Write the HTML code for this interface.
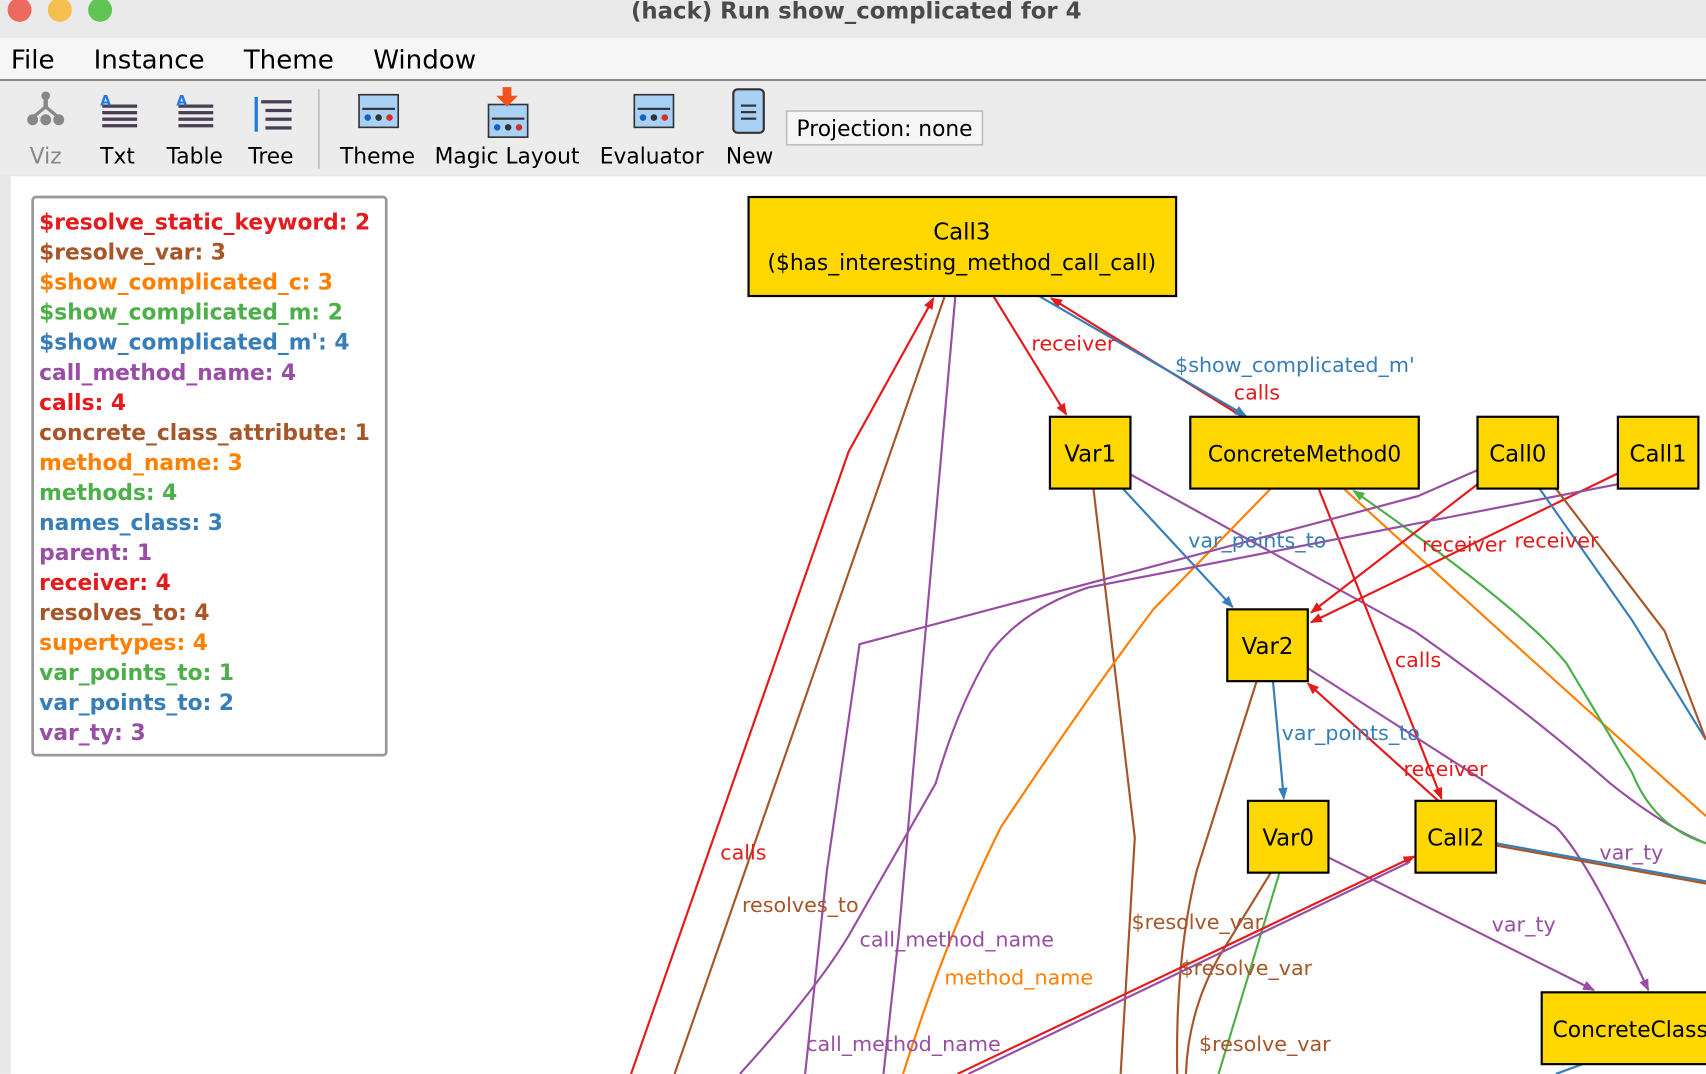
<!DOCTYPE html>
<html><head><meta charset="utf-8"><style>
html,body{margin:0;padding:0;width:1706px;height:1074px;overflow:hidden;background:#fff}
svg{display:block}
text{font-family:"DejaVu Sans","Liberation Sans",sans-serif}
</style></head><body>
<svg width="1706" height="1074" viewBox="0 0 1568 987" xmlns="http://www.w3.org/2000/svg">
<defs>
<marker id="ar" viewBox="0 0 10 10" refX="9" refY="5" markerWidth="12" markerHeight="11" orient="auto" markerUnits="userSpaceOnUse"><path d="M0,1 L10,5 L0,9 Z" fill="#e41a1c"/></marker>
<marker id="ab" viewBox="0 0 10 10" refX="9" refY="5" markerWidth="12" markerHeight="11" orient="auto" markerUnits="userSpaceOnUse"><path d="M0,1 L10,5 L0,9 Z" fill="#377eb8"/></marker>
<marker id="ap" viewBox="0 0 10 10" refX="9" refY="5" markerWidth="12" markerHeight="11" orient="auto" markerUnits="userSpaceOnUse"><path d="M0,1 L10,5 L0,9 Z" fill="#984ea3"/></marker>
<marker id="ag" viewBox="0 0 10 10" refX="9" refY="5" markerWidth="12" markerHeight="11" orient="auto" markerUnits="userSpaceOnUse"><path d="M0,1 L10,5 L0,9 Z" fill="#4daf4a"/></marker>
</defs>
<rect x="0" y="0" width="1568" height="35" fill="#e9e9e9"/>
<circle cx="18" cy="9" r="11" fill="#ec6a5e"/><circle cx="55" cy="9" r="11" fill="#f4bf4f"/><circle cx="92" cy="9" r="11" fill="#61c554"/>
<text x="787" y="17" text-anchor="middle" font-size="21" font-weight="bold" fill="#4a4a4a" font-family="Liberation Sans">(hack) Run show_complicated for 4</text>
<rect x="0" y="35" width="1568" height="38" fill="#f6f6f6"/>
<line x1="0" y1="73.5" x2="1568" y2="73.5" stroke="#8a8a8a" stroke-width="2"/>
<g font-size="24" fill="#000" font-family="Liberation Sans">
<text x="10" y="63">File</text><text x="86" y="63">Instance</text><text x="224" y="63">Theme</text><text x="343" y="63">Window</text></g>
<rect x="0" y="75" width="1568" height="85" fill="#ececec"/>
<line x1="293" y1="82" x2="293" y2="155" stroke="#bbb" stroke-width="1.5"/>
<g fill="#888"><circle cx="42" cy="88" r="4"/><rect x="40" y="88" width="4" height="12"/><circle cx="30" cy="110" r="5"/><circle cx="42" cy="110" r="5"/><circle cx="54" cy="110" r="5"/><path d="M42,98 L30,108 M42,98 L54,108" stroke="#888" stroke-width="3"/></g>
<g fill="#4a3f55"><rect x="94" y="96" width="32" height="3"/><rect x="94" y="102" width="32" height="3"/><rect x="94" y="108" width="32" height="3"/><rect x="94" y="114" width="32" height="3"/><rect x="164" y="96" width="32" height="3"/><rect x="164" y="102" width="32" height="3"/><rect x="164" y="108" width="32" height="3"/><rect x="164" y="114" width="32" height="3"/>
<rect x="240" y="92" width="28" height="3"/><rect x="244" y="100" width="24" height="3"/><rect x="244" y="108" width="24" height="3"/><rect x="244" y="116" width="24" height="3"/></g>
<text x="92" y="97" font-size="13" fill="#1e7be0" font-weight="bold">A</text><text x="162" y="97" font-size="13" fill="#1e7be0" font-weight="bold">A</text>
<rect x="234" y="89" width="3" height="32" fill="#1e7be0"/>
<g stroke="#333" stroke-width="1.5" fill="#a9d0f5"><rect x="330" y="87" width="36" height="30"/><rect x="449" y="96" width="36" height="30"/><rect x="583" y="87" width="36" height="30"/></g>
<g fill="#333"><rect x="333" y="99" width="30" height="2"/><rect x="452" y="108" width="30" height="2"/><rect x="586" y="99" width="30" height="2"/></g>
<g><circle cx="338" cy="108" r="3" fill="#1565c0"/><circle cx="348" cy="108" r="3" fill="#333"/><circle cx="358" cy="108" r="3" fill="#d32f2f"/><circle cx="457" cy="117" r="3" fill="#1565c0"/><circle cx="467" cy="117" r="3" fill="#333"/><circle cx="477" cy="117" r="3" fill="#d32f2f"/><circle cx="591" cy="108" r="3" fill="#1565c0"/><circle cx="601" cy="108" r="3" fill="#333"/><circle cx="611" cy="108" r="3" fill="#d32f2f"/></g>
<path d="M462,80 h8 v8 h6 l-10,10 l-10,-10 h6 z" fill="#f4511e"/>
<rect x="674" y="82" width="28" height="40" rx="4" fill="#a9d0f5" stroke="#333" stroke-width="2"/>
<g fill="#333"><rect x="681" y="96" width="14" height="2"/><rect x="681" y="102" width="14" height="2"/><rect x="681" y="108" width="14" height="2"/></g>
<g font-size="20" fill="#000" font-family="Liberation Sans" text-anchor="middle">
<text x="42" y="150" fill="#888">Viz</text><text x="108" y="150">Txt</text><text x="179" y="150">Table</text><text x="249" y="150">Tree</text><text x="347" y="150">Theme</text><text x="466" y="150">Magic Layout</text><text x="599" y="150">Evaluator</text><text x="689" y="150">New</text></g>
<rect x="723" y="102" width="180" height="31" fill="#f6f6f6" stroke="#bdbdbd" stroke-width="1.5"/>
<text x="813" y="125" font-size="20" text-anchor="middle" font-family="Liberation Sans">Projection: none</text>
<rect x="0" y="160" width="1568" height="827" fill="#e8e8e8"/>
<rect x="10" y="162" width="1558" height="825" fill="#fff"/>
<rect x="30" y="181" width="325" height="513" rx="3" fill="#fff" stroke="#999" stroke-width="2.5"/>
<g font-size="20" font-weight="bold">
<text x="36" y="211" fill="#e41a1c">$resolve_static_keyword: 2</text>
<text x="36" y="238.6" fill="#a65628">$resolve_var: 3</text>
<text x="36" y="266.2" fill="#ff7f00">$show_complicated_c: 3</text>
<text x="36" y="293.8" fill="#4daf4a">$show_complicated_m: 2</text>
<text x="36" y="321.4" fill="#377eb8">$show_complicated_m': 4</text>
<text x="36" y="349" fill="#984ea3">call_method_name: 4</text>
<text x="36" y="376.6" fill="#e41a1c">calls: 4</text>
<text x="36" y="404.2" fill="#a65628">concrete_class_attribute: 1</text>
<text x="36" y="431.8" fill="#ff7f00">method_name: 3</text>
<text x="36" y="459.4" fill="#4daf4a">methods: 4</text>
<text x="36" y="487" fill="#377eb8">names_class: 3</text>
<text x="36" y="514.6" fill="#984ea3">parent: 1</text>
<text x="36" y="542.2" fill="#e41a1c">receiver: 4</text>
<text x="36" y="569.8" fill="#a65628">resolves_to: 4</text>
<text x="36" y="597.4" fill="#ff7f00">supertypes: 4</text>
<text x="36" y="625" fill="#4daf4a">var_points_to: 1</text>
<text x="36" y="652.6" fill="#377eb8">var_points_to: 2</text>
<text x="36" y="680.2" fill="#984ea3">var_ty: 3</text>
</g>
<g fill="none" stroke-width="2">
<path d="M913,272 L980,381" stroke="#e41a1c" marker-end="url(#ar)"/>
<path d="M1142,383 L966,274" stroke="#e41a1c" marker-end="url(#ar)"/>
<path d="M955,272 L1145,382" stroke="#377eb8" marker-end="url(#ab)"/>
<path d="M1032,449 L1133,558" stroke="#377eb8" marker-end="url(#ab)"/>
<path d="M1039,436 L1300,580 Q1400,650 1480,720 Q1530,760 1568,775" stroke="#984ea3"/>
<path d="M1005,449 L1043,770 L1030,987" stroke="#a65628"/>
<path d="M1168,449 L1060,560 Q1000,640 920,760 Q870,860 830,987" stroke="#ff7f00"/>
<path d="M1212,449 L1325,734" stroke="#e41a1c" marker-end="url(#ar)"/>
<path d="M1235,449 Q1400,600 1568,750" stroke="#ff7f00"/>
<path d="M1568,775 Q1520,760 1500,710 Q1470,660 1440,610 Q1400,560 1244,451" stroke="#4daf4a" marker-end="url(#ag)"/>
<path d="M1358,445 L1205,563" stroke="#e41a1c" marker-end="url(#ar)"/>
<path d="M1487,435 L1205,572" stroke="#e41a1c" marker-end="url(#ar)"/>
<path d="M1358,432 L1303,456 L790,592 L760,800 L740,987" stroke="#984ea3"/>
<path d="M1487,445 L1000,540 Q940,560 910,600 Q880,650 860,720 Q820,790 780,860 Q750,910 680,987" stroke="#984ea3"/>
<path d="M878,273 L840,700 L826,860 L812,987" stroke="#984ea3"/>
<path d="M1415,449 L1500,570 L1568,680" stroke="#377eb8"/>
<path d="M1430,449 L1530,580 L1568,680" stroke="#a65628"/>
<path d="M1170,626 L1180,734" stroke="#377eb8" marker-end="url(#ab)"/>
<path d="M1322,736 L1202,628" stroke="#e41a1c" marker-end="url(#ar)"/>
<path d="M1202,614 L1430,760 Q1460,790 1515,910" stroke="#984ea3" marker-end="url(#ap)"/>
<path d="M1155,626 L1100,800 Q1080,880 1082,987" stroke="#a65628"/>
<path d="M1221,788 L1465,910" stroke="#984ea3" marker-end="url(#ap)"/>
<path d="M1168,802 L1120,880 Q1092,930 1090,987" stroke="#a65628"/>
<path d="M1176,802 L1120,987" stroke="#4daf4a"/>
<path d="M1375,775 L1568,810" stroke="#377eb8"/>
<path d="M1375,777 L1568,812" stroke="#a65628"/>
<path d="M880,987 L1300,787" stroke="#e41a1c" marker-end="url(#ar)"/>
<path d="M890,987 L1296,792" stroke="#984ea3"/>
<path d="M580,987 L780,415 L858,274" stroke="#e41a1c" marker-end="url(#ar)"/>
<path d="M868,273 L620,987" stroke="#a65628"/>
<path d="M1430,987 L1460,976" stroke="#377eb8"/>
</g>
<g font-size="19">
<text x="948" y="322" fill="#e41a1c">receiver</text>
<text x="1134" y="367" fill="#e41a1c">calls</text>
<text x="1080" y="342" fill="#377eb8">$show_complicated_m'</text>
<text x="1092" y="503" fill="#377eb8">var_points_to</text>
<text x="1307" y="507" fill="#e41a1c">receiver</text>
<text x="1392" y="503" fill="#e41a1c">receiver</text>
<text x="1282" y="613" fill="#e41a1c">calls</text>
<text x="1178" y="680" fill="#377eb8">var_points_to</text>
<text x="1290" y="713" fill="#e41a1c">receiver</text>
<text x="1470" y="790" fill="#984ea3">var_ty</text>
<text x="1371" y="856" fill="#984ea3">var_ty</text>
<text x="662" y="790" fill="#e41a1c">calls</text>
<text x="682" y="838" fill="#a65628">resolves_to</text>
<text x="790" y="870" fill="#984ea3">call_method_name</text>
<text x="868" y="905" fill="#ff7f00">method_name</text>
<text x="741" y="966" fill="#984ea3">call_method_name</text>
<text x="1040" y="854" fill="#a65628">$resolve_var</text>
<text x="1085" y="896" fill="#a65628">$resolve_var</text>
<text x="1102" y="966" fill="#a65628">$resolve_var</text>
</g>
<g fill="#ffd700" stroke="#000" stroke-width="2">
<rect x="688" y="181" width="393" height="91"/>
<rect x="965" y="383" width="74" height="66"/>
<rect x="1094" y="383" width="210" height="66"/>
<rect x="1358" y="383" width="74" height="66"/>
<rect x="1487" y="383" width="74" height="66"/>
<rect x="1128" y="560" width="74" height="66"/>
<rect x="1147" y="736" width="74" height="66"/>
<rect x="1301" y="736" width="74" height="66"/>
<rect x="1417" y="912" width="200" height="66"/>
</g>
<g font-size="21" fill="#000" text-anchor="middle">
<text x="884" y="220">Call3</text>
<text x="884" y="248" font-size="20">($has_interesting_method_call_call)</text>
<text x="1002" y="424">Var1</text>
<text x="1199" y="424" font-size="20">ConcreteMethod0</text>
<text x="1395" y="424">Call0</text>
<text x="1524" y="424">Call1</text>
<text x="1165" y="601">Var2</text>
<text x="1184" y="777">Var0</text>
<text x="1338" y="777">Call2</text>
<text x="1427" y="953" text-anchor="start" font-size="20">ConcreteClass0</text>
</g>
</svg>
</body></html>
